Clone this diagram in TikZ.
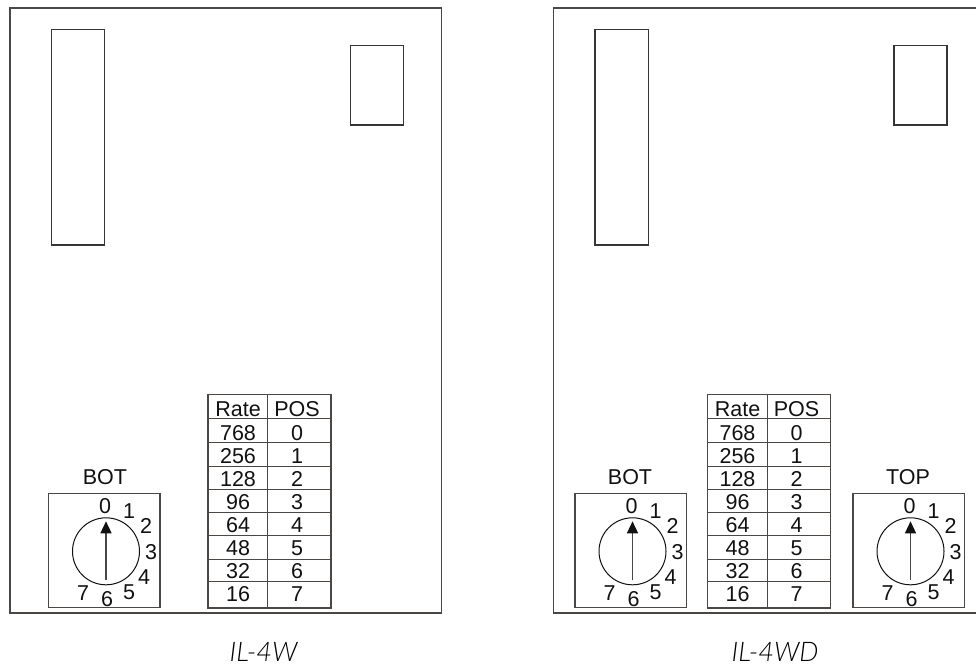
\documentclass[tikz,border=0pt]{standalone}
\usepackage{fontspec}
\setmainfont{Liberation Sans}
\newfontfamily\capfont{Lato Light Italic}
\usetikzlibrary{arrows.meta}
\definecolor{linec}{HTML}{4A4744}
\definecolor{inkc}{HTML}{111111}
\tikzset{
  frame/.style={draw=linec,line width=1.2pt},
  thinbox/.style={draw=inkc!85!white,line width=1.1pt},
  label/.style={text=inkc,font=\fontsize{21.5}{25}\selectfont,anchor=base,inner sep=0pt},
  dig/.style={text=inkc,font=\fontsize{21.5}{25}\selectfont,anchor=center,inner sep=0pt},
  captext/.style={text=black,font=\capfont\fontsize{27}{32}\selectfont,anchor=base,inner sep=0pt},
  dial/.pic={
    % origin = centre of the dial circle
    \draw[frame] (-57.5,-57.5) rectangle (54,56.5);
    \node[dig] (-d0) at (-1,-45) {0};
    \node[dig] (-d1) at (23,-40) {1};
    \node[dig] (-d2) at (40,-25) {2};
    \node[dig] (-d3) at (45,1) {3};
    \node[dig] (-d4) at (38,26) {4};
    \node[dig] (-d5) at (23,41) {5};
    \node[dig] (-d6) at (1,48) {6};
    \node[dig] (-d7) at (-23,42) {7};
    \draw[draw=inkc,line width=1pt] (0,0) circle (33.5);
    \coordinate (-tail) at (0,29);
    \coordinate (-tip) at (0,-30);
    \draw[draw=linec,line width=1.4pt,-{Triangle[length=12pt,width=11pt,color=inkc]}] (-tail) -- (-tip);
  },
  ratetable/.pic={
    % origin = top-left corner of the table
    \draw[frame] (0,0) rectangle (123,213.3);
    \draw[frame] (59.7,0) -- (59.7,213.3);
    \foreach \yy in {23.6,48.2,72.2,94.6,117.3,141,164.6,186.6}
      \draw[frame,line width=1pt] (0,\yy) -- (123,\yy);
    \node[label] (-rh) at (30,22) {Rate};
    \node[label] (-ph) at (89,22) {POS};
    \foreach \r/\p/\b in {768/0/46,256/1/68.5,128/2/91.5,96/3/114.5,64/4/138,48/5/160.5,32/6/183.5,16/7/206.5}{
      \node[label] (-r\p) at (30,\b) {\r};
      \node[label] (-p\p) at (89,\b) {\p};
    }
  }
}
\begin{document}
\begin{tikzpicture}[x=1pt,y=-1pt]
\useasboundingbox (0,0) rectangle (976,667);
% left board
\draw[frame] (10,8) rectangle (441.5,613);
\draw[thinbox] (51.5,29.5) rectangle (104.5,245);
\draw[thinbox] (350.5,45.5) rectangle (403.5,125);
\pic (lt) at (208,394.7) {ratetable};
\pic (lb) at (106,551.3) {dial};
\node[label] (lbot) at (105,484) {BOT};
\node[captext] (lcap) at (263.5,661) {IL-4W};
% right board
\draw[frame] (976,8) -- (553.5,8) -- (553.5,613) -- (976,613);
\draw[thinbox] (595,29.5) rectangle (648.5,245);
\draw[thinbox] (894,45.5) rectangle (947,125);
\pic (rt) at (707.5,394.7) {ratetable};
\pic (rb) at (632.5,551.3) {dial};
\pic (rc) at (910.5,551.3) {dial};
\node[label] (rbot) at (630,484) {BOT};
\node[label] (rtop) at (908,484) {TOP};
\node[captext] (rcap) at (775,661) {IL-4WD};
\end{tikzpicture}
\end{document}
